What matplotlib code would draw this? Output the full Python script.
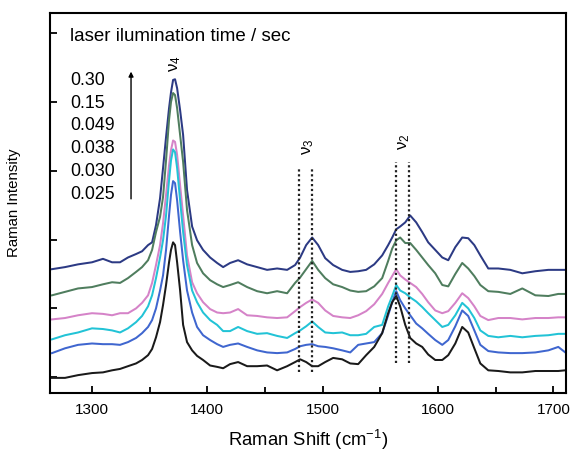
import numpy as np
import matplotlib
matplotlib.use("Agg")
import matplotlib.pyplot as plt

plt.rcParams['font.family'] = ['Liberation Sans', 'DejaVu Sans']
plt.rcParams['mathtext.default'] = 'regular'

# Raman shift grid (cm-1)
shift = [1265.3, 1276.6, 1287.9, 1300.0, 1309.5, 1317.4, 1324.3, 1331.2, 1338.2, 1343.4,
         1348.6, 1352.1, 1355.5, 1359.0, 1361.6, 1364.2, 1366.8, 1368.5, 1370.3, 1372.0,
         1373.8, 1376.4, 1379.0, 1382.4, 1386.8, 1391.1, 1396.3, 1402.4, 1408.5, 1413.7,
         1419.7, 1426.7, 1434.5, 1443.2, 1451.8, 1460.5, 1469.2, 1476.1, 1480.5, 1485.7,
         1490.9, 1496.1, 1502.2, 1509.1, 1516.9, 1523.9, 1530.8, 1537.7, 1544.7, 1551.6,
         1556.8, 1560.3, 1563.8, 1567.2, 1571.6, 1575.9, 1581.1, 1586.3, 1591.5, 1597.6,
         1603.7, 1608.9, 1615.0, 1621.0, 1626.2, 1631.5, 1636.7, 1643.6, 1652.3, 1662.7,
         1673.1, 1684.4, 1695.7, 1704.3, 1710.4]

# stacked spectra (offset, arbitrary units)
s030 = [1.57, 1.60, 1.64, 1.67, 1.72, 1.67, 1.67, 1.74, 1.79, 1.83,
        1.92, 1.96, 2.21, 2.60, 3.04, 3.49, 3.91, 4.14, 4.32, 4.33,
        4.20, 3.88, 3.52, 2.72, 2.19, 1.99, 1.85, 1.74, 1.66, 1.60,
        1.66, 1.70, 1.64, 1.60, 1.56, 1.58, 1.56, 1.63, 1.74, 1.92,
        2.03, 1.92, 1.73, 1.63, 1.56, 1.53, 1.54, 1.56, 1.64, 1.77,
        1.92, 2.03, 2.15, 2.19, 2.25, 2.35, 2.25, 2.11, 1.96, 1.85,
        1.74, 1.70, 1.89, 2.03, 2.02, 1.92, 1.77, 1.58, 1.58, 1.56,
        1.51, 1.54, 1.56, 1.56, 1.56]
s015 = [1.19, 1.24, 1.29, 1.31, 1.35, 1.38, 1.37, 1.44, 1.53, 1.60,
        1.70, 1.85, 2.11, 2.33, 2.62, 3.15, 3.74, 4.00, 4.13, 4.10,
        3.91, 3.52, 3.13, 2.43, 1.92, 1.66, 1.51, 1.41, 1.35, 1.31,
        1.34, 1.38, 1.31, 1.25, 1.22, 1.25, 1.22, 1.37, 1.45, 1.57,
        1.69, 1.56, 1.44, 1.35, 1.31, 1.26, 1.24, 1.25, 1.32, 1.44,
        1.69, 1.87, 1.99, 2.03, 1.95, 1.95, 1.85, 1.74, 1.63, 1.51,
        1.34, 1.32, 1.50, 1.66, 1.58, 1.47, 1.34, 1.25, 1.24, 1.21,
        1.29, 1.19, 1.18, 1.21, 1.21]
s049 = [0.84, 0.86, 0.90, 0.93, 0.92, 0.90, 0.93, 0.93, 1.00, 1.08,
        1.19, 1.37, 1.63, 1.92, 2.24, 2.65, 3.08, 3.30, 3.44, 3.42,
        3.23, 2.79, 2.35, 1.77, 1.38, 1.22, 1.09, 0.99, 0.94, 0.93,
        0.94, 0.99, 0.90, 0.89, 0.87, 0.86, 0.87, 0.96, 1.02, 1.08,
        1.13, 1.08, 0.97, 0.89, 0.87, 0.86, 0.90, 0.96, 1.06, 1.21,
        1.37, 1.47, 1.57, 1.48, 1.42, 1.37, 1.31, 1.21, 1.09, 0.97,
        0.93, 0.96, 1.08, 1.22, 1.15, 1.03, 0.89, 0.83, 0.86, 0.86,
        0.84, 0.86, 0.86, 0.87, 0.87]
s038 = [0.55, 0.61, 0.65, 0.71, 0.70, 0.68, 0.65, 0.71, 0.80, 0.89,
        1.03, 1.19, 1.44, 1.74, 1.99, 2.35, 2.86, 3.15, 3.31, 3.27,
        3.04, 2.57, 2.11, 1.63, 1.26, 1.09, 0.94, 0.83, 0.76, 0.67,
        0.67, 0.73, 0.67, 0.63, 0.64, 0.60, 0.57, 0.64, 0.68, 0.74,
        0.81, 0.73, 0.65, 0.64, 0.65, 0.61, 0.61, 0.63, 0.73, 0.76,
        1.03, 1.18, 1.34, 1.26, 1.22, 1.16, 1.10, 1.02, 0.93, 0.83,
        0.73, 0.76, 0.90, 1.08, 1.00, 0.86, 0.68, 0.60, 0.58, 0.60,
        0.58, 0.60, 0.61, 0.63, 0.63]
s030b = [0.35, 0.42, 0.47, 0.49, 0.48, 0.48, 0.47, 0.51, 0.57, 0.64,
         0.73, 0.83, 1.00, 1.26, 1.48, 1.85, 2.35, 2.65, 2.85, 2.82,
         2.57, 2.11, 1.70, 1.26, 0.94, 0.73, 0.61, 0.54, 0.48, 0.44,
         0.47, 0.49, 0.44, 0.39, 0.36, 0.35, 0.36, 0.41, 0.45, 0.47,
         0.48, 0.45, 0.44, 0.42, 0.39, 0.36, 0.47, 0.49, 0.51, 0.64,
         0.90, 1.09, 1.25, 1.12, 1.00, 0.90, 0.78, 0.71, 0.63, 0.54,
         0.47, 0.54, 0.74, 0.97, 0.89, 0.68, 0.47, 0.38, 0.36, 0.35,
         0.35, 0.36, 0.39, 0.44, 0.36]
s025 = [-0.01, -0.01, 0.03, 0.06, 0.07, 0.10, 0.12, 0.16, 0.20, 0.25,
        0.32, 0.41, 0.58, 0.80, 1.05, 1.34, 1.67, 1.85, 1.96, 1.92,
        1.67, 1.26, 0.76, 0.51, 0.39, 0.31, 0.25, 0.17, 0.15, 0.13,
        0.19, 0.22, 0.16, 0.16, 0.17, 0.10, 0.16, 0.22, 0.26, 0.22,
        0.16, 0.16, 0.22, 0.28, 0.26, 0.20, 0.19, 0.32, 0.44, 0.64,
        0.93, 1.09, 1.18, 1.03, 0.76, 0.57, 0.49, 0.44, 0.33, 0.25,
        0.25, 0.32, 0.49, 0.73, 0.65, 0.42, 0.20, 0.10, 0.09, 0.07,
        0.07, 0.09, 0.09, 0.09, 0.10]

times = ['0.30', '0.15', '0.049', '0.038', '0.030', '0.025']
spectra = [s030, s015, s049, s038, s030b, s025]
colors = ['#2c3a84', '#4f7d5e', '#d583c8', '#22c3d6', '#3f66cf', '#1a1a1a']

# band positions marked with dotted lines
nu3_lines = [1479.6, 1490.9]
nu2_lines = [1563.8, 1575.0]

fig = plt.figure(figsize=(5.73, 4.57), dpi=100)
ax = fig.add_axes([0.0873, 0.140, 0.9005, 0.8326])

for s, c in zip(spectra, colors):
    ax.plot(shift, s, color=c, lw=1.45)

for xv in nu3_lines:
    ax.plot([xv, xv], [0.07, 3.04], color='#222222', lw=1.6, ls=(0, (1, 1.2)))
for xv in nu2_lines:
    ax.plot([xv, xv], [0.20, 3.13], color='#222222', lw=1.6, ls=(0, (1, 1.2)))

ax.set_xlim(1263.6, 1711)
ax.set_ylim(-0.23, 5.30)
ax.set_xticks([1300, 1400, 1500, 1600, 1700])
ax.set_xticks([1350, 1450, 1550, 1650], minor=True)
ax.set_yticks([0, 1, 2, 3, 4, 5])
ax.set_yticklabels([])
ax.tick_params(direction='in', length=5, width=1.3, labelsize=11, pad=7)
ax.tick_params(which='minor', direction='in', length=4, width=1.3)
for sp in ax.spines.values():
    sp.set_linewidth(1.5)

ax.set_xlabel('Raman Shift (cm$^{-1}$)', fontsize=13.3, labelpad=8)
ax.set_ylabel('Raman Intensity', fontsize=10.8, labelpad=14)

# legend-like annotation
ax.text(0.038, 0.938, 'laser ilumination time / sec', transform=ax.transAxes,
        fontsize=13.5, va='center', ha='left')
for i, t in enumerate(times):
    ax.text(0.040, 0.822 - i * 0.0600, t, transform=ax.transAxes,
            fontsize=12.8, va='center', ha='left')
ax.annotate('', xy=(0.157, 0.852), xytext=(0.157, 0.503), xycoords='axes fraction',
            arrowprops=dict(arrowstyle='-|>', color='black', lw=1.0,
                            mutation_scale=7))

ax.text(1372, 4.55, 'ν$_4$', rotation=90, fontsize=12, ha='center', va='center')
ax.text(1487, 3.35, 'ν$_3$', rotation=90, fontsize=12, ha='center', va='center')
ax.text(1571, 3.42, 'ν$_2$', rotation=90, fontsize=12, ha='center', va='center')

fig.savefig('out.png', dpi=100)
